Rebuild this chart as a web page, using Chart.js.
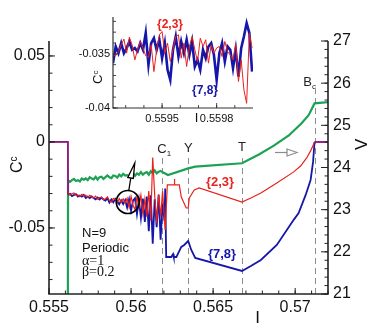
<!DOCTYPE html>
<html>
<head>
<meta charset="utf-8">
<script src="https://cdn.jsdelivr.net/npm/chart.js@4.4.1/dist/chart.umd.min.js"></script>
<style>
  html, body { margin: 0; padding: 0; background: #fff; }
  #wrap { position: relative; width: 374px; height: 333px; }
  #main { position: absolute; left: 0; top: 0; }
  #inset { position: absolute; left: 60px; top: 0; }
</style>
</head>
<body>
<div id="wrap">
  <canvas id="main" width="374" height="333"></canvas>
  <canvas id="inset" width="205" height="125"></canvas>
</div>
<script>
// ---- main panel data: I on x, C^c (left axis) for {2,3} / {7,8}, V (right axis) in green
const xMajor = [0.555, 0.56, 0.565, 0.57];
const cMajor = [-0.05, 0, 0.05];
const vMajor = [21, 22, 23, 24, 25, 26, 27];

// shared I grid for the noisy stretch before C1
const noiseI = [
  0.55616, 0.55628, 0.55640, 0.55652, 0.55664, 0.55676, 0.55688, 0.55700, 0.55712, 0.55724,
  0.55736, 0.55748, 0.55760, 0.55772, 0.55784, 0.55796, 0.55808, 0.55820, 0.55832, 0.55844,
  0.55856, 0.55868, 0.55880, 0.55892, 0.55904, 0.55916, 0.55928, 0.55940, 0.55952, 0.55964,
  0.55976, 0.55988, 0.56000, 0.56012, 0.56024, 0.56036, 0.56048, 0.56060, 0.56072, 0.56084,
  0.56096, 0.56108, 0.56120, 0.56132, 0.56144, 0.56156, 0.56168, 0.56180, 0.56192, 0.56204
];

const redHeadI = [0.555, 0.55615];
const redHeadC = [0, 0];
const redNoiseC = [
  -0.0295, -0.0309, -0.0301, -0.0297, -0.0310, -0.0308, -0.0318, -0.0305, -0.0315, -0.0310,
  -0.0322, -0.0310, -0.0319, -0.0326, -0.0315, -0.0332, -0.0323, -0.0322, -0.0336, -0.0330,
  -0.0320, -0.0340, -0.0349, -0.0328, -0.0335, -0.0355, -0.0329, -0.0350, -0.0330, -0.0356,
  -0.0328, -0.0380, -0.0316, -0.0368, -0.0394, -0.0316, -0.0378, -0.0309, -0.0416, -0.0332,
  -0.0434, -0.0286, -0.0457, -0.0090, -0.0310, -0.0472, -0.0304, -0.0435, -0.0287, -0.0458
];
const redTailI = [0.56208, 0.56221, 0.56262, 0.56264, 0.56266, 0.56294, 0.56306, 0.56336, 0.56348, 0.56355,
  0.56385, 0.56415, 0.56676, 0.56730, 0.56791, 0.56888, 0.56991, 0.57033, 0.57070, 0.57094, 0.57118, 0.572];
const redTailC = [-0.0512, -0.0250, -0.0250, -0.0215, -0.0250, -0.0250, -0.0320, -0.0384, -0.0384, -0.0326,
  -0.0279, -0.0267, -0.0349, -0.0326, -0.0297, -0.0238, -0.0174, -0.0140, -0.0093, -0.0052, 0, 0];

const blueHeadI = [0.555, 0.55615];
const blueHeadC = [0, 0];
const blueNoiseC = [
  -0.0306, -0.0301, -0.0315, -0.0308, -0.0303, -0.0318, -0.0311, -0.0318, -0.0308, -0.0326,
  -0.0318, -0.0327, -0.0317, -0.0326, -0.0334, -0.0323, -0.0334, -0.0323, -0.0335, -0.0341,
  -0.0327, -0.0353, -0.0334, -0.0351, -0.0331, -0.0347, -0.0362, -0.0340, -0.0361, -0.0338,
  -0.0381, -0.0333, -0.0399, -0.0341, -0.0327, -0.0419, -0.0336, -0.0442, -0.0329, -0.0465,
  -0.0317, -0.0519, -0.0310, -0.0592, -0.0333, -0.0495, -0.0307, -0.0568, -0.0360, -0.0461
];
const blueTailI = [0.56208, 0.56214, 0.56245, 0.56256, 0.56260, 0.56276, 0.56306, 0.56324, 0.56348, 0.56367,
  0.56391, 0.56676, 0.56730, 0.56791, 0.56888, 0.56991, 0.57021, 0.57064, 0.57094, 0.57109, 0.57118, 0.572];
const blueTailC = [-0.0270, -0.0669, -0.0669, -0.0652, -0.0669, -0.0669, -0.0610, -0.0599, -0.0576, -0.0628,
  -0.0674, -0.0750, -0.0721, -0.0686, -0.0599, -0.0453, -0.0413, -0.0308, -0.0221, -0.0116, 0, 0];

const greenHeadI = [0.55615];
const greenHeadV = [21];
const greenNoiseV = [
  23.70, 23.66, 23.70, 23.73, 23.68, 23.70, 23.67, 23.74, 23.71, 23.74,
  23.70, 23.77, 23.74, 23.72, 23.78, 23.71, 23.77, 23.78, 23.73, 23.77,
  23.81, 23.77, 23.75, 23.81, 23.80, 23.76, 23.83, 23.79, 23.85, 23.81,
  23.82, 23.80, 23.85, 23.87, 23.80, 23.86, 23.83, 23.89, 23.83, 23.87,
  23.89, 23.83, 23.91, 23.87, 23.93, 23.86, 23.90, 23.92
];
const greenTailI = [0.56196, 0.56225, 0.56348, 0.56391, 0.56676, 0.56779, 0.56870, 0.56961, 0.57039, 0.57082, 0.57118, 0.572];
const greenTailV = [23.88, 23.82, 23.98, 24.02, 24.10, 24.31, 24.52, 24.76, 25.05, 25.24, 25.52, 25.55];

// transition markers
const markerI = [0.5619, 0.56349, 0.56676, 0.57118];
const markerName = ['C', 'Y', 'T', 'B'];
const markerSub = ['1', '', '', 'c'];

// ---- inset data (zoom on 0.5592..0.5600)
const insetXMajor = [0.5595, 0.5598];
const insetCMajor = [-0.04, -0.035];
const insetI = [
  0.559230, 0.559245, 0.559260, 0.559275, 0.559290, 0.559305, 0.559320, 0.559335, 0.559350, 0.559365,
  0.559380, 0.559395, 0.559410, 0.559425, 0.559440, 0.559455, 0.559470, 0.559485, 0.559500, 0.559515,
  0.559530, 0.559545, 0.559560, 0.559575, 0.559590, 0.559605, 0.559620, 0.559635, 0.559650, 0.559665,
  0.559680, 0.559695, 0.559710, 0.559725, 0.559740, 0.559755, 0.559770, 0.559785, 0.559800, 0.559815,
  0.559830, 0.559845, 0.559860, 0.559875, 0.559890, 0.559905, 0.559920, 0.559935, 0.559950, 0.559965,
  0.559980, 0.559995
];
const insetBlueC = [
  -0.03586, -0.03432, -0.03494, -0.03401, -0.03494, -0.03447, -0.03386, -0.03463, -0.03447, -0.03478,
  -0.03401, -0.03463, -0.03308, -0.03602, -0.03401, -0.03355, -0.03463, -0.03370, -0.03540, -0.03401,
  -0.03648, -0.03741, -0.03463, -0.03340, -0.03525, -0.03386, -0.03494, -0.03370, -0.03509, -0.03386,
  -0.03617, -0.03556, -0.03648, -0.03463, -0.03540, -0.03432, -0.03401, -0.03509, -0.03741, -0.03494,
  -0.03401, -0.03571, -0.03432, -0.03463, -0.03633, -0.03463, -0.03710, -0.03447, -0.03340, -0.03216,
  -0.03308, -0.03664
];
const insetRedC = [
  -0.03509, -0.03518, -0.03478, -0.03417, -0.03364, -0.03494, -0.03346, -0.03417, -0.03556, -0.03463,
  -0.03386, -0.03447, -0.03518, -0.03531, -0.03417, -0.03664, -0.03463, -0.03324, -0.03294, -0.03494,
  -0.03401, -0.03571, -0.03463, -0.03340, -0.03324, -0.03540, -0.03401, -0.03617, -0.03432, -0.03340,
  -0.03463, -0.03571, -0.03355, -0.03432, -0.03370, -0.03586, -0.03417, -0.03494, -0.03447, -0.03432,
  -0.03525, -0.03386, -0.03478, -0.03509, -0.03556, -0.03401, -0.03756, -0.03556, -0.03833, -0.03957,
  -0.03308, -0.03447
];

// ---- styling
const FONT = "'Liberation Sans', Arial, Helvetica, sans-serif";
const SERIF = "'Liberation Serif', 'Times New Roman', serif";
const INK = '#111';
const RED = '#e8221c';
const BLUE = '#1616aa';
const GREEN = '#1ca155';
const PURPLE = '#8e1f7c';

function pts(xs, ys) { return xs.map((v, i) => ({ x: v, y: ys[i] })); }
function steps(from, to, step) {
  const out = [];
  for (let v = from; v <= to + step * 1e-6; v += step) out.push(+v.toFixed(7));
  return out;
}
function seg(ctx, x1, y1, x2, y2) { ctx.beginPath(); ctx.moveTo(x1, y1); ctx.lineTo(x2, y2); ctx.stroke(); }

// inward tick marks along an axis
function ticksX(ctx, scale, vals, y, len) {
  vals.forEach(v => { const px = scale.getPixelForValue(v); seg(ctx, px, y, px, y - len); });
}
function ticksY(ctx, scale, vals, x, len) {
  vals.forEach(v => { const py = scale.getPixelForValue(v); seg(ctx, x, py, x + len, py); });
}

// text with a small sub/superscript after it
function subText(ctx, main, sub, x, y, size, dy, align) {
  ctx.font = `${size}px ${FONT}`;
  const w1 = ctx.measureText(main).width;
  ctx.font = `${Math.round(size * 0.62)}px ${FONT}`;
  const w2 = sub ? ctx.measureText(sub).width : 0;
  let x0 = x;
  if (align === 'center') x0 = x - (w1 + w2) / 2;
  if (align === 'right') x0 = x - (w1 + w2);
  ctx.textAlign = 'left';
  ctx.font = `${size}px ${FONT}`;
  ctx.fillText(main, x0, y);
  if (sub) {
    ctx.font = `${Math.round(size * 0.62)}px ${FONT}`;
    ctx.fillText(sub, x0 + w1, y + dy);
  }
}

const dashTopV = [24.3, 24.3, 24.3, 25.86];

const mainDecor = {
  id: 'mainDecor',
  beforeDatasetsDraw(chart) {
    const { ctx, chartArea: a, scales: { x, yV } } = chart;
    ctx.save();
    ctx.strokeStyle = '#8c8c8c';
    ctx.lineWidth = 1;
    ctx.setLineDash([6, 4]);
    markerI.forEach((v, i) => {
      const px = Math.round(x.getPixelForValue(v)) + 0.5;
      seg(ctx, px, a.bottom, px, yV.getPixelForValue(dashTopV[i]));
    });
    ctx.restore();
  },
  afterDraw(chart) {
    const { ctx, chartArea: a, scales: { x, y, yV } } = chart;
    ctx.save();
    // axes (no top frame)
    ctx.strokeStyle = '#222';
    ctx.lineWidth = 1.6;
    seg(ctx, a.left, a.top, a.left, a.bottom);
    seg(ctx, a.left - 0.8, a.bottom, a.right + 0.8, a.bottom);
    seg(ctx, a.right, a.top, a.right, a.bottom);
    ctx.lineWidth = 1;
    ticksX(ctx, x, steps(0.555, 0.572, 0.001), a.bottom, 3.5);
    ticksX(ctx, x, xMajor, a.bottom, 6);
    ticksY(ctx, y, steps(-0.08, 0.05, 0.01), a.left, 3.5);
    ticksY(ctx, y, cMajor, a.left, 6);
    ticksY(ctx, yV, steps(21, 27, 0.2), a.right, -3.5);
    ticksY(ctx, yV, vMajor, a.right, -7);

    // axis titles
    ctx.fillStyle = INK;
    ctx.textBaseline = 'alphabetic';
    ctx.save();
    ctx.translate(22, 173);
    ctx.rotate(-Math.PI / 2);
    subText(ctx, 'C', 'c', 0, 0, 16, -5, 'left');
    ctx.restore();
    ctx.save();
    ctx.translate(367, 150);
    ctx.rotate(-Math.PI / 2);
    ctx.font = `17px ${FONT}`;
    ctx.textAlign = 'left';
    ctx.fillText('V', 0, 0);
    ctx.restore();
    ctx.font = `17px ${FONT}`;
    ctx.textAlign = 'center';
    ctx.fillText('I', 257.5, 323);

    // marker labels
    ctx.fillStyle = '#222';
    const labelBase = [153, 152, 151, 86];
    const labelShift = [2, 0, 0, -5];
    markerI.forEach((v, i) => {
      const px = x.getPixelForValue(v) + labelShift[i];
      subText(ctx, markerName[i], markerSub[i], px, labelBase[i], 13, 3, 'center');
    });

    // curve labels
    ctx.textAlign = 'center';
    ctx.font = `bold 13px ${FONT}`;
    ctx.fillStyle = RED;
    ctx.fillText('{2,3}', 220, 186);
    ctx.fillStyle = BLUE;
    ctx.fillText('{7,8}', 222, 258);

    // parameters
    ctx.fillStyle = INK;
    ctx.textAlign = 'left';
    ctx.font = `13px ${FONT}`;
    ctx.fillText('N=9', 82, 237);
    ctx.fillText('Periodic', 82, 252);
    ctx.font = `14px ${SERIF}`;
    ctx.fillText('α=1', 82, 265);
    ctx.fillText('β=0.2', 82, 276);

    // zoom circle + pointer toward the inset
    const cx = x.getPixelForValue(0.5598), cy = y.getPixelForValue(-0.0349);
    ctx.strokeStyle = '#000';
    ctx.lineWidth = 1.7;
    ctx.beginPath();
    ctx.arc(cx, cy, 11.5, 0, Math.PI * 2);
    ctx.stroke();
    ctx.lineWidth = 1.3;
    seg(ctx, cx + 1, cy - 11.5, cx + 3, cy - 24);
    ctx.beginPath();
    ctx.moveTo(cx, cy - 24.5);
    ctx.lineTo(cx + 7, cy - 39);
    ctx.lineTo(cx + 5.5, cy - 23.5);
    ctx.closePath();
    ctx.fillStyle = '#fff';
    ctx.fill();
    ctx.stroke();

    // gray arrow pointing to the V axis
    ctx.strokeStyle = '#8c8c8c';
    ctx.lineWidth = 1.2;
    seg(ctx, 275, 152.5, 287, 152.5);
    ctx.beginPath();
    ctx.moveTo(287, 149);
    ctx.lineTo(297, 152.5);
    ctx.lineTo(287, 156);
    ctx.closePath();
    ctx.stroke();
    ctx.restore();
  }
};

const redData = [...pts(redHeadI, redHeadC), ...pts(noiseI, redNoiseC), ...pts(redTailI, redTailC)];
const blueData = [...pts(blueHeadI, blueHeadC), ...pts(noiseI, blueNoiseC), ...pts(blueTailI, blueTailC)];
const greenData = [...pts(greenHeadI, greenHeadV), ...pts(noiseI.slice(0, greenNoiseV.length), greenNoiseV), ...pts(greenTailI, greenTailV)];

// red and blue coincide before the onset and after B_c: show that overlap in purple
const overlap = c => (c.p1.parsed.x <= noiseI[0] || c.p0.parsed.x >= markerI[3]) ? PURPLE : undefined;

new Chart(document.getElementById('main'), {
  type: 'line',
  data: {
    datasets: [
      { label: '{2,3}', data: redData, yAxisID: 'y', borderColor: RED, borderWidth: 1.2, pointRadius: 0, order: 0,
        segment: { borderColor: overlap } },
      { label: '{7,8}', data: blueData, yAxisID: 'y', borderColor: BLUE, borderWidth: 1.8, pointRadius: 0, order: 1,
        segment: { borderColor: overlap } },
      { label: 'V', data: greenData, yAxisID: 'yV', borderColor: GREEN, borderWidth: 2.2, pointRadius: 0, order: 2 }
    ]
  },
  plugins: [mainDecor],
  options: {
    responsive: false, animation: false,
    layout: { padding: { top: 41, left: 0, right: 0, bottom: 0 } },
    plugins: { legend: { display: false }, tooltip: { enabled: false } },
    elements: { line: { tension: 0 } },
    scales: {
      x: {
        type: 'linear', min: 0.555, max: 0.572,
        grid: { display: false, drawTicks: false }, border: { display: false },
        afterBuildTicks: s => { s.ticks = xMajor.map(v => ({ value: v })); },
        afterFit: s => { s.height = 39; },
        ticks: { font: { size: 16, family: FONT }, color: INK, padding: 4, maxRotation: 0, autoSkip: false, callback: v => String(v) }
      },
      y: {
        position: 'left', min: -0.0884, max: 0.0587,
        grid: { display: false, drawTicks: false }, border: { display: false },
        afterBuildTicks: s => { s.ticks = cMajor.map(v => ({ value: v })); },
        afterFit: s => { s.width = 49; },
        ticks: { font: { size: 16, family: FONT }, color: INK, padding: 4, autoSkip: false, callback: v => String(v) }
      },
      yV: {
        position: 'right', min: 21, max: 27,
        grid: { display: false, drawTicks: false }, border: { display: false },
        afterBuildTicks: s => { s.ticks = vMajor.map(v => ({ value: v })); },
        afterFit: s => { s.width = 46; },
        ticks: { font: { size: 16, family: FONT }, color: INK, padding: 5, autoSkip: false, callback: v => String(v) }
      }
    }
  }
});

// ---- inset
const insetDecor = {
  id: 'insetDecor',
  afterDraw(chart) {
    const { ctx, chartArea: a, scales: { x, y } } = chart;
    ctx.save();
    ctx.strokeStyle = '#333';
    ctx.lineWidth = 1.2;
    seg(ctx, a.left, a.top, a.left, a.bottom);
    seg(ctx, a.left - 0.6, a.bottom, a.right, a.bottom);
    ctx.lineWidth = 0.9;
    ticksX(ctx, x, steps(0.5593, 0.5599, 0.0001), a.bottom, 3);
    ticksX(ctx, x, insetXMajor, a.bottom, 5);
    ticksY(ctx, y, steps(-0.04, -0.032, 0.001), a.left, 3);
    ticksY(ctx, y, insetCMajor, a.left, 5);

    ctx.fillStyle = INK;
    ctx.save();
    ctx.translate(42, 84);
    ctx.rotate(-Math.PI / 2);
    subText(ctx, 'C', 'c', 0, 0, 13, -4, 'left');
    ctx.restore();
    ctx.font = `13px ${FONT}`;
    ctx.textAlign = 'center';
    ctx.fillText('I', 136.5, 122);

    ctx.font = `bold 12px ${FONT}`;
    ctx.fillStyle = RED;
    ctx.fillText('{2,3}', 110, 28);
    ctx.fillStyle = BLUE;
    ctx.fillText('{7,8}', 145, 94);
    ctx.restore();
  }
};

new Chart(document.getElementById('inset'), {
  type: 'line',
  data: {
    datasets: [
      { label: '{2,3}', data: pts(insetI, insetRedC), borderColor: RED, borderWidth: 1, pointRadius: 0, order: 0 },
      { label: '{7,8}', data: pts(insetI, insetBlueC), borderColor: BLUE, borderWidth: 2.6, pointRadius: 0, order: 1 }
    ]
  },
  plugins: [insetDecor],
  options: {
    responsive: false, animation: false,
    layout: { padding: { top: 17, right: 12, left: 0, bottom: 0 } },
    plugins: { legend: { display: false }, tooltip: { enabled: false } },
    elements: { line: { tension: 0 } },
    scales: {
      x: {
        type: 'linear', min: 0.55923, max: 0.56,
        grid: { display: false, drawTicks: false }, border: { display: false },
        afterBuildTicks: s => { s.ticks = insetXMajor.map(v => ({ value: v })); },
        afterFit: s => { s.height = 17; },
        ticks: { font: { size: 11, family: FONT }, color: INK, padding: 4, maxRotation: 0, autoSkip: false, callback: v => String(v) }
      },
      y: {
        min: -0.04, max: -0.0316,
        grid: { display: false, drawTicks: false }, border: { display: false },
        afterBuildTicks: s => { s.ticks = insetCMajor.map(v => ({ value: v })); },
        afterFit: s => { s.width = 53; },
        ticks: { font: { size: 11, family: FONT }, color: INK, padding: 3, autoSkip: false, callback: v => String(v) }
      }
    }
  }
});
</script>
</body>
</html>
